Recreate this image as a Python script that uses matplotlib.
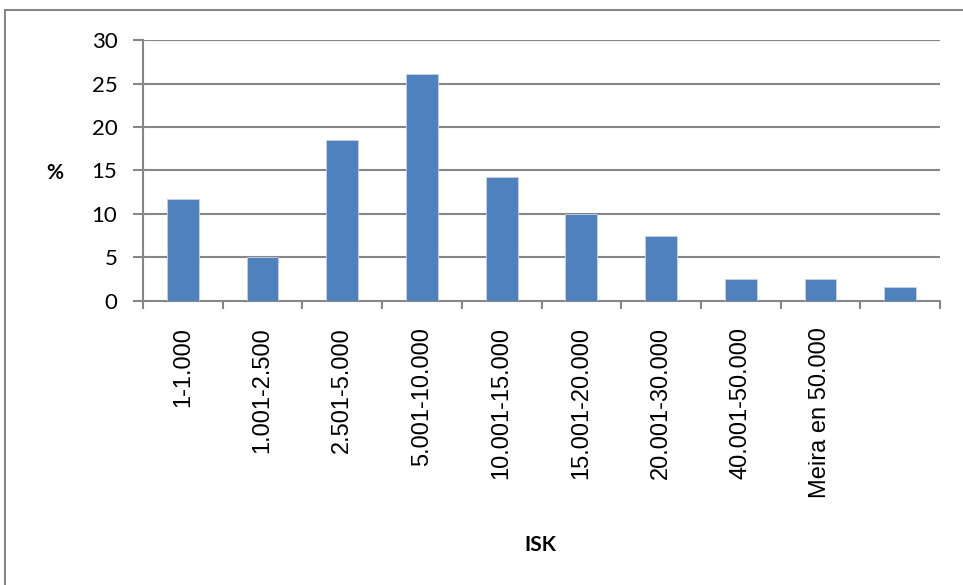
import matplotlib
matplotlib.use("Agg")
import matplotlib.pyplot as plt
from matplotlib.patches import Rectangle
import numpy as np

categories = ["1-1.000", "1.001-2.500", "2.501-5.000", "5.001-10.000",
              "10.001-15.000", "15.001-20.000", "20.001-30.000",
              "40.001-50.000", "Meira en 50.000", ""]
values = [11.7, 5.0, 18.5, 26.1, 14.2, 10.0, 7.5, 2.5, 2.5, 1.6]
yticks = [0, 5, 10, 15, 20, 25, 30]

plt.rcParams['font.family'] = ['Lato', 'DejaVu Sans']

W, H = 963, 585
fig = plt.figure(figsize=(W / 100, H / 100), dpi=100)

# outer chart frame
fig.patches.append(Rectangle((5 / W, -0.05), 1.2, 1 - 10 / H + 0.05,
                             transform=fig.transFigure, fill=False,
                             edgecolor="#868686", linewidth=1.5))

x0, x1 = 143, 940
y0, y1 = 301, 40
ax = fig.add_axes([x0 / W, 1 - y0 / H, (x1 - x0) / W, (y0 - y1) / H])

grid_c = "#868686"
n = len(values)
pos = np.arange(n)
ax.bar(pos, values, width=0.4, color="#4f81bd", edgecolor="#c3d3ea",
       linewidth=0.6, zorder=3)

ax.set_xlim(-0.5, n - 0.5)
ax.set_ylim(0, 30)
ax.set_yticks(yticks)
ax.set_yticklabels([str(t) for t in yticks], fontsize=16)
for t in yticks[1:]:
    ax.axhline(t, color=grid_c, linewidth=1.5, zorder=1)

for side in ("top", "right"):
    ax.spines[side].set_visible(False)
for side in ("left", "bottom"):
    ax.spines[side].set_color(grid_c)
    ax.spines[side].set_linewidth(1.5)

# category boundary ticks
ax.set_xticks(np.arange(n + 1) - 0.5, minor=True)
ax.tick_params(axis="x", which="minor", length=6, width=1.5, color=grid_c,
               direction="out")
ax.set_xticks(pos)
ax.set_xticklabels(categories, rotation=90, fontsize=17,
                   family=["Liberation Sans", "DejaVu Sans"])
ax.tick_params(axis="x", which="major", length=0, pad=19)
ax.tick_params(axis="y", length=7.5, width=1.5, color=grid_c, pad=11)

fig.text(55 / W, 1 - 173 / H, "%", fontsize=15, fontweight="bold",
         ha="center", va="center")
fig.text(540 / W, 1 - 545 / H, "ISK", fontsize=15, fontweight="bold",
         ha="center", va="center")

fig.savefig("out.png", dpi=100)
